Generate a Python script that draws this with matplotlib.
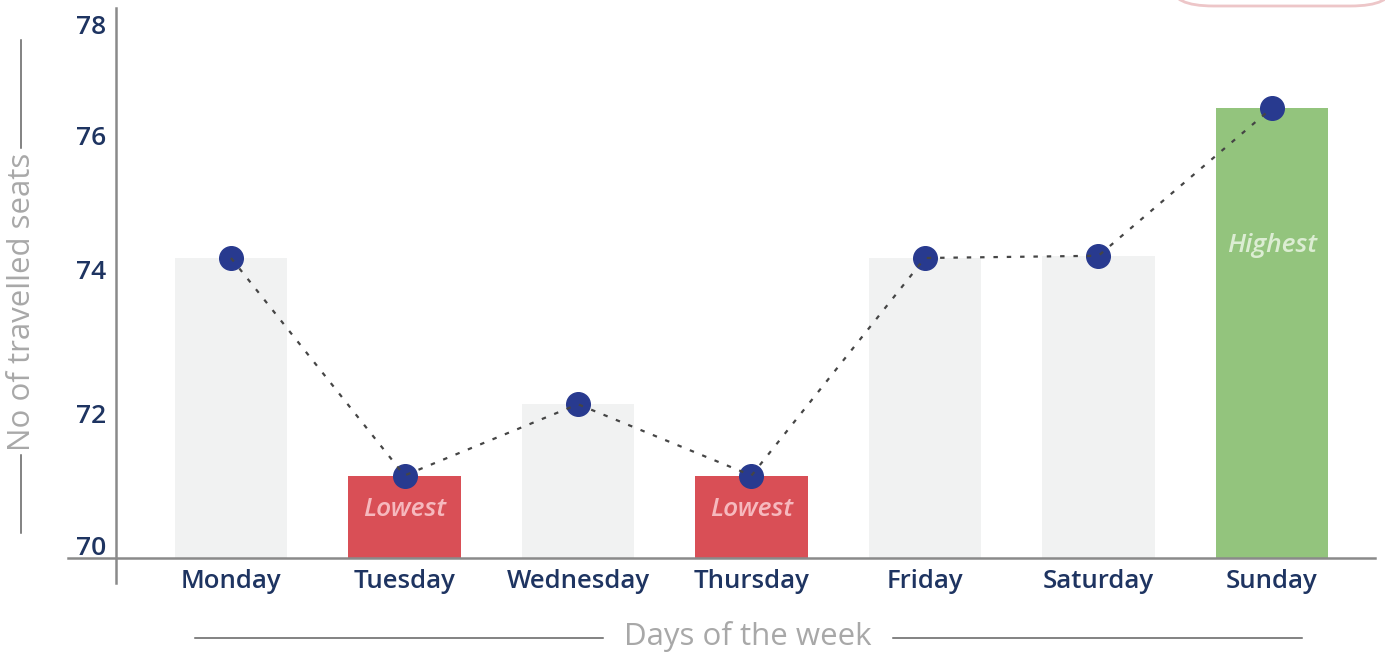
import numpy as np
import matplotlib
matplotlib.use("Agg")
import matplotlib.pyplot as plt
from matplotlib.lines import Line2D
from matplotlib.patches import FancyBboxPatch

plt.rcParams['font.family'] = ['Open Sans', 'DejaVu Sans']

# data
days = ['Monday', 'Tuesday', 'Wednesday', 'Thursday', 'Friday', 'Saturday', 'Sunday']
seats = [74.0, 71.1, 72.05, 71.1, 74.0, 74.03, 76.0]
bar_colors = ['#F1F2F2', '#D94F56', '#F1F2F2', '#D94F56', '#F1F2F2', '#F1F2F2', '#93C47D']
bar_notes = ['', 'Lowest', '', 'Lowest', '', '', 'Highest']
note_colors = {'Lowest': '#F6B9BE', 'Highest': '#DCEDD3'}
note_y = {'Lowest': 70.64, 'Highest': 74.16}
# printed y labels and where they sit on the bar scale (the original spaces them unevenly)
ytick_labels = ['70', '72', '74', '76', '78']
ytick_at = [70.17, 71.93, 73.84, 75.63, 77.11]

navy = '#1E3461'
grey = '#A8A8A8'

W, H = 1385, 656
fig = plt.figure(figsize=(W / 100, H / 100), dpi=100)
ax = fig.add_axes([116 / W, (H - 558) / H, (1375 - 116) / W, (558 - 8) / H])

x = np.arange(len(days))
base = 70
ax.bar(x, np.array(seats) - base, bottom=base, width=0.65, color=bar_colors, zorder=1)
ax.plot(x, seats, color='#454545', lw=1.6, linestyle=(0, (2, 4)), zorder=3)
ax.plot(x, seats, 'o', color='#283A8F', ms=17, zorder=2)

for xi, note in zip(x, bar_notes):
    if note:
        ax.text(xi, note_y[note], note, ha='center', va='center', fontsize=19,
                style='italic', fontweight='semibold', color=note_colors[note])

ax.set_xlim(-0.663, 6.594)
ax.set_ylim(70, 70 + 550 / 75)
ax.set_xticks(x)
ax.set_xticklabels(days, fontsize=18.5, fontweight='semibold', color=navy)
ax.tick_params(axis='x', length=0, pad=8)
ax.set_yticks(ytick_at)
ax.set_yticklabels(ytick_labels, fontsize=19, fontweight='semibold', color=navy)
ax.tick_params(axis='y', length=0, pad=7)
for s in ax.spines.values():
    s.set_visible(False)

# axis lines that run past the plot area
axis_col = '#8A8A8A'
ax.plot([(68 - 116) / 1259, 1.0], [0, 0], transform=ax.transAxes, color=axis_col,
        lw=1.8, clip_on=False, zorder=4)
ax.plot([0, 0], [-25 / 550, 1.0], transform=ax.transAxes, color=axis_col,
        lw=1.8, clip_on=False, zorder=4)

# axis titles with flanking rules
fig.text(748 / W, 1 - 636 / H, 'Days of the week', ha='center', va='center',
         fontsize=22.5, color=grey)
line_col = '#606060'
fig.add_artist(Line2D([195 / W, 603 / W], [1 - 638 / H] * 2, color=line_col, lw=1.1))
fig.add_artist(Line2D([893 / W, 1302 / W], [1 - 638 / H] * 2, color=line_col, lw=1.1))

fig.text(22 / W, 1 - 302 / H, 'No of travelled seats', ha='center', va='center',
         rotation=90, fontsize=22.5, color=grey)
fig.add_artist(Line2D([21 / W] * 2, [1 - 40 / H, 1 - 148 / H], color=line_col, lw=1.1))
fig.add_artist(Line2D([21 / W] * 2, [1 - 455 / H, 1 - 533 / H], color=line_col, lw=1.1))

# clipped badge at the top right
fig.add_artist(FancyBboxPatch((1172 / W, 1 - 6 / H), 220 / W, 60 / H,
                              boxstyle='round,pad=0,rounding_size=0.03',
                              transform=fig.transFigure, facecolor='white',
                              edgecolor='#EDC6C8', lw=2))

fig.savefig('out.png', dpi=100)
